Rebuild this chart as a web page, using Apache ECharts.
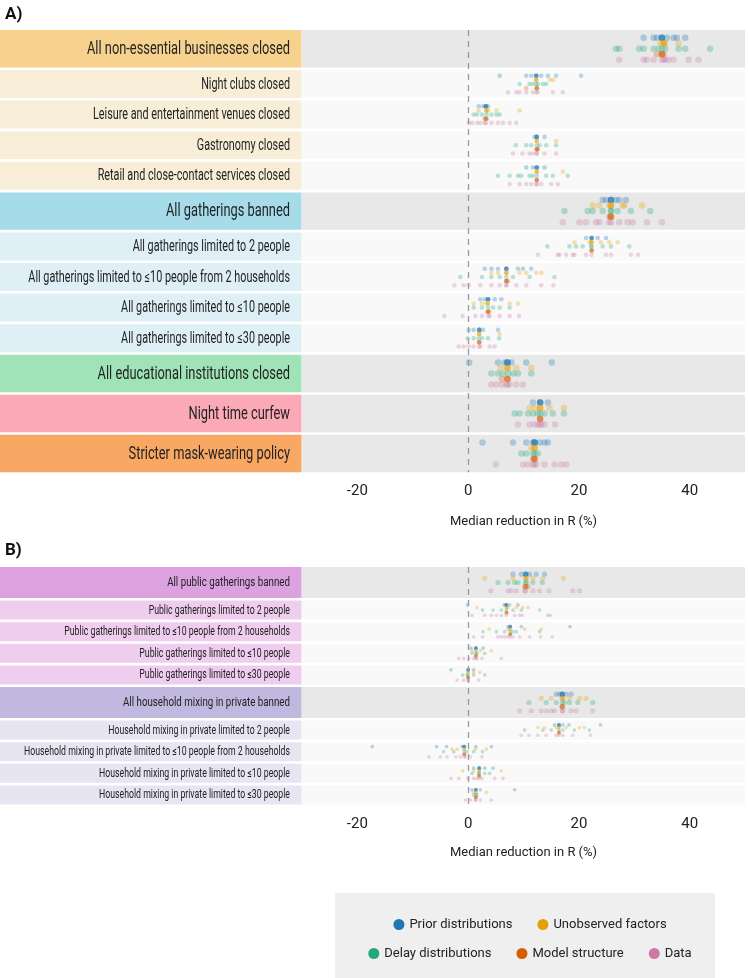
<!DOCTYPE html>
<html><head><meta charset="utf-8">
<script src="https://cdn.jsdelivr.net/npm/echarts@6/dist/echarts.min.js"></script>
<style>html,body{margin:0;padding:0;background:#fff}#c{width:748px;height:978px}</style>
</head><body><div id="c"></div>
<script>
const FONT = "Roboto, 'DejaVu Sans', sans-serif";

const sourceNames = ['Prior distributions','Unobserved factors','Delay distributions','Model structure','Data'];
const tickValues = [-20, 0, 20, 40];
const axisTitle = 'Median reduction in R (%)';

// ---------- Panel A ----------
const catsA = [
  'All non-essential businesses closed','Night clubs closed','Leisure and entertainment venues closed',
  'Gastronomy closed','Retail and close-contact services closed','All gatherings banned',
  'All gatherings limited to 2 people','All gatherings limited to \u226410 people from 2 households',
  'All gatherings limited to \u226410 people','All gatherings limited to \u226430 people',
  'All educational institutions closed','Night time curfew','Stricter mask-wearing policy'
];
const typesA = ['main','sub','sub','sub','sub','main','sub','sub','sub','sub','main','main','main'];

const priorA = [
  [31.7,33.5,34.1,35.0,35.0,35.0,35.0,35.9,37.1,37.7,39.2],
  [5.7,10.5,11.4,12.3,12.3,12.3,12.3,13.2,14.4,15.9,20.4],
  [1.9,2.7,3.2,3.2,3.2,3.2,3.6],
  [12.0,12.4,12.4,12.4,12.4,13.8],
  [10.5,11.7,12.4,12.4,12.4,12.4,13.8],
  [24.3,24.9,25.8,25.8,25.8,25.8,26.7,27.3,28.5],
  [21.3,22.3,22.3,22.3,22.3,23.4,24.9],
  [3.0,4.2,5.4,6.9,6.9,6.9,6.9,9.0,9.9,11.4],
  [2.2,3.0,3.6,3.6,3.6,3.6,4.8,6.0],
  [0.1,1.0,2.0,2.0,2.0,2.0,2.7,5.4],
  [0.2,5.4,6.6,7.1,7.1,7.1,7.1,7.8,10.5,15.1],
  [11.7,13.0,13.0,13.0,13.0,14.4],
  [2.6,8.1,10.5,11.7,12.0,12.0,12.0,12.0,12.9,13.8,14.4]
];
const unobsA = [
  [34.7,35.3,35.3,35.3,35.6,38.0],
  [12.3,12.3,12.3,14.8,15.4],
  [1.9,3.3,3.3,3.3,3.6,5.1,9.3],
  [12.4,12.4,12.4,15.9],
  [12.4,12.4,12.4,17.1],
  [22.5,23.7,25.5,25.8,25.8,25.8,27.9,28.2,31.4],
  [19.2,21.9,22.3,22.3,22.3,24.0,25.5,27.0],
  [4.2,5.4,6.9,6.9,6.9,9.3,10.5,12.3,13.2],
  [1.0,2.5,3.3,3.6,3.6,7.5,9.0],
  [2.0,2.0,2.0,5.7],
  [5.9,7.1,7.1,7.1,8.7,11.4],
  [11.1,12.0,13.0,13.0,13.0,14.7,17.3],
  [11.4,12.0,12.0,12.0]
];
const delayA = [
  [26.7,27.3,30.9,31.7,33.5,34.4,35.0,35.6,38.0,39.2,43.7],
  [9.3,11.1,11.7,12.3,12.6,13.5,14.1],
  [1.0,1.6,2.5,3.3,4.2,5.1,5.7],
  [8.6,10.5,11.4,12.4,12.9,14.1,15.9],
  [5.4,7.5,9.0,9.6,11.1,11.7,12.4,14.1,15.3,18.0],
  [17.4,21.6,22.5,24.3,25.8,25.8,27.0,29.4,32.9],
  [14.3,18.3,19.5,20.7,22.2,22.3,24.3,25.8,29.1],
  [-1.4,2.5,4.2,5.7,6.9,8.1,11.1,15.6],
  [1.0,2.5,3.6,4.5,5.7,7.5],
  [-0.1,1.0,1.9,2.5,3.6,5.6],
  [4.2,5.4,6.3,7.2,8.1,9.0,11.4],
  [8.4,9.3,10.8,11.7,12.6,13.0,13.8,15.3,17.3],
  [9.6,10.5,11.7,12.0,12.6]
];
const modelA = [
  [34.1,35.0,35.0,35.0,35.3],
  [10.5,12.4,12.4,12.4],
  [3.0,3.2,3.2,3.4],
  [12.4,12.4,12.4,12.6],
  [12.4,12.4,12.4],
  [25.5,25.8,25.8,25.8],
  [22.3,22.3,22.3],
  [6.9,6.9,6.9,7.2],
  [3.5,3.6,3.6,3.8],
  [2.0,2.0,2.0],
  [6.1,7.1,7.1,7.1],
  [13.0,13.0,13.0],
  [11.7,12.0,12.0,12.0]
];
const dataA = [
  [27.3,31.7,32.3,33.5,35.0,35.3,35.6,36.2,37.1,39.8,41.6],
  [7.2,8.7,9.3,10.5,11.7,12.3,12.6,15.3,17.1],
  [0.1,0.7,1.6,2.2,3.0,3.2,4.2,5.4,6.3,7.5,8.7],
  [8.1,9.8,11.1,11.7,12.4,12.4,13.8,15.9],
  [7.5,9.3,10.5,11.4,12.3,12.4,13.2,15.0,16.2],
  [17.1,20.1,21.3,23.1,23.7,25.5,25.8,27.3,28.8,29.7,32.3,35.0],
  [12.6,16.2,16.5,17.7,18.9,19.2,21.3,22.3,24.9,25.8,29.4,30.7],
  [-2.5,-0.8,0.1,2.2,4.2,5.7,6.9,6.9,8.7,10.5,13.2,15.4],
  [-4.3,-1.0,1.3,2.5,3.6,3.9,5.7,7.5,9.2],
  [-1.7,-0.8,0.1,1.0,2.0,2.2,3.9,4.8],
  [4.2,5.1,6.1,6.9,7.1,7.5,8.7,9.9],
  [9.0,11.1,12.0,12.6,13.0,13.2,13.8,15.7],
  [5.0,9.9,10.8,11.7,12.0,12.3,13.8,15.6,16.8,17.7]
];

// ---------- Panel B ----------
const catsB = [
  'All public gatherings banned','Public gatherings limited to 2 people',
  'Public gatherings limited to \u226410 people from 2 households','Public gatherings limited to \u226410 people',
  'Public gatherings limited to \u226430 people','All household mixing in private banned',
  'Household mixing in private limited to 2 people',
  'Household mixing in private limited to \u226410 people from 2 households',
  'Household mixing in private limited to \u226410 people','Household mixing in private limited to \u226430 people'
];
const typesB = ['main','sub','sub','sub','sub','main','sub','sub','sub','sub'];

const priorB = [
  [8.1,9.6,10.4,10.4,10.4,10.4,11.1,12.3,13.8],
  [-0.1,6.5,6.9,6.9,6.9,6.9,7.5,9.0],
  [7.2,7.6,7.6,7.6,7.6,9.6,18.4],
  [0.5,1.4,1.4,1.4,1.4,2.7],
  [-3.1,0.0,0.0,0.0,0.0,1.0],
  [15.9,16.5,17.0,17.0,17.0,17.0,17.7,18.6],
  [15.6,16.4,16.4,16.4,16.4,17.1,18.2,23.9],
  [-17.3,-5.7,-3.9,-1.1,-0.7,-0.7,-0.7,-0.7,1.4,4.2],
  [1.0,2.0,2.0,2.0,2.0,3.0,4.5],
  [0.7,1.4,1.4,1.4,1.4,2.2,8.4]
];
const unobsB = [
  [3.0,8.1,10.4,10.4,10.5,11.7,13.5,17.2],
  [1.6,6.9,6.9,7.2,8.7,9.9,10.8],
  [3.8,7.2,7.6,7.6,10.2,13.2],
  [0.7,1.4,1.4,2.2,4.2],
  [0.0,0.0,1.0,2.1],
  [13.2,15.0,17.0,17.0,17.1,18.3,20.1,21.3],
  [12.6,13.8,15.9,16.4,16.4,17.7,20.1,21.0],
  [-2.9,-2.0,-0.7,-0.7,1.3,3.3],
  [-1.0,1.0,2.0,2.0,2.0,6.0],
  [1.0,1.4,1.4,3.3]
];
const delayB = [
  [5.4,7.2,8.4,9.0,10.4,10.5,11.7,13.4],
  [2.6,4.5,6.0,6.9,8.1,9.6,12.9],
  [2.7,5.1,6.6,7.6,8.1,8.7,12.9],
  [0.7,1.4,1.6,3.0],
  [-1.0,-0.2,0.0,1.0,3.0],
  [11.0,14.1,15.9,17.0,17.4,18.3,19.8,22.5],
  [10.2,13.5,15.0,16.4,17.1,19.2,21.9],
  [-4.4,-2.6,-0.7,-0.2,1.0,2.6],
  [0.7,1.9,2.0,3.0,3.9],
  [1.0,1.4,1.6]
];
const modelB = [
  [10.2,10.4,10.4,10.8],
  [6.9,6.9,7.0],
  [7.6,7.6,7.6],
  [1.4,1.4,1.4],
  [0.0,0.0,0.0],
  [17.0,17.0,17.0],
  [16.4,16.4,16.4],
  [-0.7,-0.7,-0.7],
  [2.0,2.0,2.0],
  [1.4,1.4,1.4]
];
const dataB = [
  [4.1,7.2,7.8,8.7,10.2,10.4,11.7,12.9,14.6,18.9,20.1],
  [0.7,3.0,4.2,5.1,6.0,6.9,8.4,9.3,9.8,14.4,14.8],
  [1.0,2.6,5.4,6.0,6.6,7.2,7.6,8.1,9.3,11.1,13.1,15.2],
  [-1.7,-0.8,0.1,1.0,1.4,1.6,2.5,6.0],
  [-2.0,-0.8,0.0,0.0,1.9],
  [9.3,11.4,13.2,14.1,15.0,15.6,17.0,17.1,18.6,19.5,22.5],
  [9.6,11.0,12.6,14.1,15.9,16.4,17.1,18.9,22.1],
  [-7.1,-5.0,-3.8,-2.2,-1.4,-0.7,-0.5,0.4,2.5],
  [-3.1,-1.7,0.0,1.0,1.6,2.0,2.5,4.8,6.3],
  [-0.5,0.4,1.3,1.4,2.2,4.2]
];

// ---------- styles ----------
const sourceColors = ['#1f77b4','#e69f00','#22a87a','#d55e00','#cc79a7'];
const boxColorsA = ['#f6d28e','#f8eed7','#f8eed7','#f8eed7','#f8eed7','#a6dbe9','#def0f6','#def0f6','#def0f6','#def0f6','#9fe3b6','#fba9b6','#f9a864'];
const boxColorsB = ['#dca2df','#efcdef','#efcdef','#efcdef','#efcdef','#c0b8de','#e8e5f3','#e8e5f3','#e8e5f3','#e8e5f3'];

const mctx = document.createElement('canvas').getContext('2d');
function textW(t, size, weight) { mctx.font = (weight || 'normal') + ' ' + size + 'px ' + FONT; return mctx.measureText(t).width; }

function layout(types, mainH, subH, gap) {
  const rows = []; let y = 0;
  types.forEach(t => { const h = t === 'main' ? mainH : subH; rows.push({top: y, h}); y += h + gap; });
  return {rows, total: y - gap};
}
const LA = layout(typesA, 37.4, 28, 2.6);
const LB = layout(typesB, 31, 19, 2.6);

// label font: size + horizontal condensing calibrated on one label of each kind
function fontSpec(size, label, width) { return {size, scale: width / textW(label, size)}; }

const panels = [
  {cats: catsA, types: typesA, L: LA, boxes: boxColorsA, top: 30, src: [priorA, unobsA, delayA, modelA, dataA],
   fMain: fontSpec(19, catsA[0], 203), fSub: fontSpec(16, catsA[2], 197), sizeMain: 6.5, sizeSub: 4.6, spread: 0.148},
  {cats: catsB, types: typesB, L: LB, boxes: boxColorsB, top: 567, src: [priorB, unobsB, delayB, modelB, dataB],
   fMain: fontSpec(13.5, catsB[5], 167), fSub: fontSpec(12, catsB[7], 266), sizeMain: 5.2, sizeSub: 3.7, spread: 0.135}
];

const grid = [], xAxis = [], yAxis = [], series = [];
panels.forEach((P, g) => {
  grid.push({left: 302, right: 0, top: P.top, height: P.L.total});
  xAxis.push({type: 'value', gridIndex: g, min: -30, max: 50, interval: 10,
    axisLine: {show: false}, axisTick: {show: false}, splitLine: {show: false},
    axisLabel: {margin: 12, fontSize: 15, color: '#222', fontFamily: FONT,
      formatter: v => tickValues.includes(v) ? String(v) : ''},
    name: axisTitle, nameLocation: 'middle', nameGap: g === 0 ? 43 : 42,
    nameTextStyle: {fontSize: 13, color: '#222', fontFamily: FONT}});
  yAxis.push({type: 'value', gridIndex: g, min: 0, max: P.L.total, inverse: true, show: false});
  series.push({
    type: 'custom', xAxisIndex: g, yAxisIndex: g, z: 1, silent: true, animation: false,
    data: P.cats.map((c, i) => [i]),
    renderItem: (params, api) => {
      const i = params.dataIndex, row = P.L.rows[i];
      const a = api.coord([-30, row.top]), b = api.coord([50, row.top + row.h]);
      const isMain = P.types[i] === 'main';
      const f = isMain ? P.fMain : P.fSub;
      return {type: 'group', children: [
        {type: 'rect', shape: {x: 0, y: a[1], width: a[0] - 0.5, height: b[1] - a[1]}, style: {fill: P.boxes[i]}},
        {type: 'rect', shape: {x: a[0], y: a[1], width: b[0] - a[0], height: b[1] - a[1]}, style: {fill: isMain ? '#e8e8e8' : '#f9f9f9'}},
        {type: 'text', x: a[0] - 12, y: (a[1] + b[1]) / 2 + 0.5, scaleX: f.scale,
         style: {text: P.cats[i], align: 'right', verticalAlign: 'middle', fill: '#222',
                 fontSize: f.size, fontFamily: FONT}}
      ]};
    },
    markLine: {silent: true, symbol: 'none', animation: false, label: {show: false},
      lineStyle: {type: [6, 5], color: '#9a9a9a', width: 1.3}, data: [{xAxis: 0}]}
  });
  P.src.forEach((arrs, k) => {
    const pts = [];
    arrs.forEach((vals, r) => {
      const row = P.L.rows[r];
      const y = row.top + row.h / 2 + (k - 2) * P.spread * row.h;
      const s = P.types[r] === 'main' ? P.sizeMain : P.sizeSub;
      vals.forEach(v => pts.push([v, y, s]));
    });
    series.push({type: 'scatter', name: sourceNames[k], xAxisIndex: g, yAxisIndex: g, z: 3,
      silent: true, animation: false, data: pts, symbolSize: d => d[2],
      itemStyle: {color: sourceColors[k], opacity: 0.3}});
  });
});

// legends centred on the plot area
const LEG_FONT = 13, LEG_ICON = 11, LEG_GAP = 25;
function legendLeft(names) {
  const w = names.reduce((s, n) => s + LEG_ICON + 5 + textW(n, LEG_FONT), 0) + LEG_GAP * (names.length - 1);
  return 302 + 446 / 2 - w / 2;
}
const legendBase = {icon: 'circle', itemWidth: LEG_ICON, itemHeight: LEG_ICON, itemGap: LEG_GAP, selectedMode: false,
  itemStyle: {opacity: 1}, textStyle: {fontSize: LEG_FONT, color: '#222', fontFamily: FONT}};
const legRow1 = sourceNames.slice(0, 2), legRow2 = sourceNames.slice(2);

const chart = echarts.init(document.getElementById('c'), null, {renderer: 'canvas'});
chart.setOption({
  animation: false,
  title: [
    {text: 'A)', left: 0, top: 1, textStyle: {fontSize: 17, fontWeight: 'bold', color: '#111', fontFamily: FONT}},
    {text: 'B)', left: 0, top: 537, textStyle: {fontSize: 17, fontWeight: 'bold', color: '#111', fontFamily: FONT}}
  ],
  graphic: {elements: [{type: 'rect', z: -1, shape: {x: 335, y: 893, width: 380, height: 85}, style: {fill: '#efefef'}}]},
  legend: [
    Object.assign({}, legendBase, {data: legRow1, left: legendLeft(legRow1), top: 913}),
    Object.assign({}, legendBase, {data: legRow2, left: legendLeft(legRow2), top: 942})
  ],
  grid, xAxis, yAxis, series
});
</script></body></html>
